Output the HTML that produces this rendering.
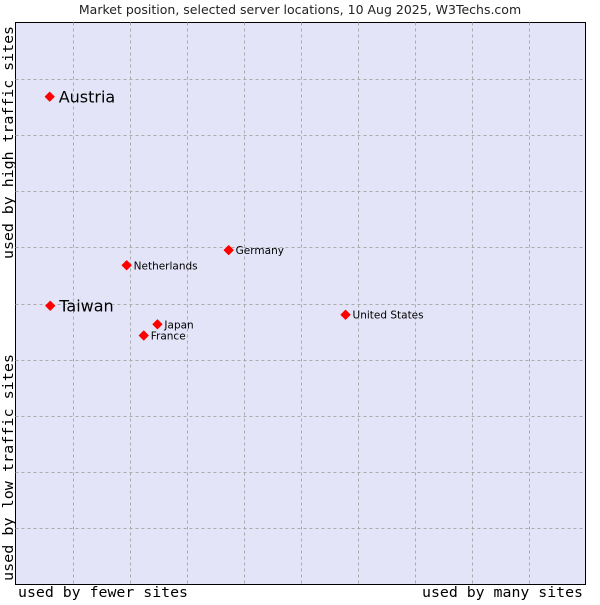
<!DOCTYPE html>
<html><head><meta charset="utf-8"><style>
body{margin:0;background:#fff;width:600px;height:600px;overflow:hidden}
text{font-family:"DejaVu Sans","Liberation Sans",sans-serif}
.mono{font-family:"DejaVu Sans Mono","Liberation Mono",monospace}
</style></head><body>
<svg id="chart" width="600" height="600">
<text x="300" y="14" text-anchor="middle" font-size="12.5" fill="#222">Market position, selected server locations, 10 Aug 2025, W3Techs.com</text>
<rect x="15.5" y="22.5" width="570" height="562" fill="#e4e4f8" stroke="#000"/>
<g id="grid"></g>
<g id="pts"></g>
<text class="mono" x="18" y="597" font-size="14" textLength="170" lengthAdjust="spacingAndGlyphs">used by fewer sites</text>
<text class="mono" x="422" y="597" font-size="14" textLength="161" lengthAdjust="spacingAndGlyphs">used by many sites</text>
<text class="mono" transform="translate(13,581) rotate(-90)" font-size="14" textLength="227" lengthAdjust="spacingAndGlyphs">used by low traffic sites</text>
<text class="mono" transform="translate(13,259) rotate(-90)" font-size="14" textLength="233" lengthAdjust="spacingAndGlyphs">used by high traffic sites</text>
</svg>
<script>
const names=["Austria","Taiwan","Netherlands","Germany","Japan","France","United States"];
const xVals=[6.0,6.1,19.5,37.4,24.9,22.5,57.9];
const yVals=[86.8,49.6,56.8,59.5,46.3,44.3,48.0];
const big=[true,true,false,false,false,false,false];
const L=15.5,R=585.5,T=22.5,B=584.5;
const sx=v=>L+(R-L)*v/100, sy=v=>B-(B-T)*v/100;
const ns="http://www.w3.org/2000/svg";
const g=document.getElementById('grid');
for(let i=1;i<10;i++){
 const a=document.createElementNS(ns,'line');
 
 
 const x=Math.round(sx(i*10))+0.5;
 a.setAttribute('x1',x);a.setAttribute('x2',x);a.setAttribute('y1',T);a.setAttribute('y2',B);
 a.setAttribute('stroke','#aaa');a.setAttribute('stroke-dasharray','3,3');g.appendChild(a);
 const b=document.createElementNS(ns,'line');
 
 
 const y=Math.round(sy(i*10))+0.5;
 b.setAttribute('x1',L);b.setAttribute('x2',R);b.setAttribute('y1',y);b.setAttribute('y2',y);
 b.setAttribute('stroke','#aaa');b.setAttribute('stroke-dasharray','3,3');g.appendChild(b);
}
const p=document.getElementById('pts');
names.forEach((n,i)=>{
 const x=sx(xVals[i]),y=sy(yVals[i]);
 const d=document.createElementNS(ns,'path');
 
 
 d.setAttribute('d',`M${x-4.5},${y} L${x},${y-4.5} L${x+4.5},${y} L${x},${y+4.5}Z`);
 d.setAttribute('fill','#f00');d.setAttribute('stroke','#f00');d.setAttribute('stroke-linejoin','round');p.appendChild(d);
 const t=document.createElementNS(ns,'text');
 
 
 t.setAttribute('x',x+(big[i]?9:7));t.setAttribute('y',y+(big[i]?6:4));
 t.setAttribute('font-size',big[i]?16:10.5);t.textContent=n;p.appendChild(t);
});
</script>
</body></html>
